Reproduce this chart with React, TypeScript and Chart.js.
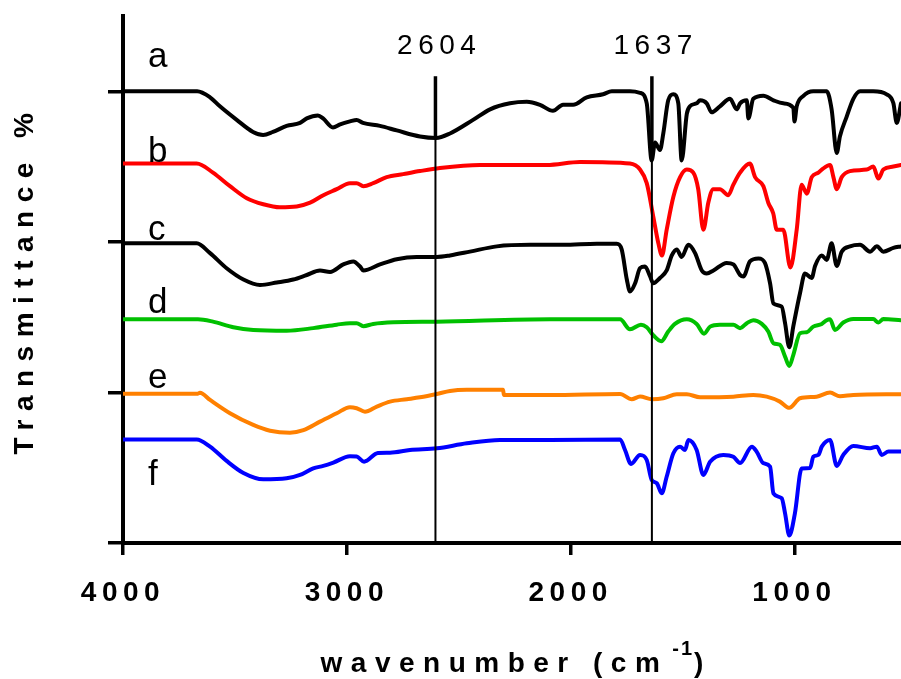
import { useEffect, useRef } from 'react';
import { Chart, registerables } from 'chart.js';

Chart.register(...registerables);

const FONT = '"Liberation Sans", Arial, Helvetica, sans-serif';

// FTIR spectra, [wavenumber (cm-1), offset transmittance] pairs
const traceA: [number, number][] = [
  [4000, 300], [3669, 300], [3611, 296], [3567, 290], [3492, 281], [3419, 273], [3374, 271], [3330, 273],
  [3269, 277], [3209, 279], [3179, 282], [3129, 284], [3106, 282], [3062, 276], [3030, 278], [2986, 280],
  [2956, 281], [2928, 279], [2852, 277], [2777, 274], [2673, 270], [2601, 269], [2539, 272], [2436, 281],
  [2360, 288], [2271, 292], [2196, 293], [2137, 291], [2079, 287], [2034, 291], [1989, 291], [1928, 296],
  [1855, 298], [1816, 300], [1735, 300], [1690, 299], [1660, 292], [1638, 254], [1623, 266], [1601, 261],
  [1586, 272], [1564, 294], [1541, 298], [1519, 292], [1504, 254], [1481, 285], [1467, 290], [1437, 292],
  [1422, 294], [1392, 292], [1370, 286], [1333, 290], [1288, 295], [1258, 288], [1243, 292], [1213, 294],
  [1206, 282], [1184, 295], [1139, 297], [1094, 294], [1050, 292], [1005, 289], [1000, 280], [990, 290],
  [960, 297], [916, 300], [856, 300], [834, 288], [811, 259], [797, 270], [767, 283], [737, 295],
  [707, 300], [648, 300], [588, 298], [558, 292], [543, 279], [524, 292],
];

const traceB: [number, number][] = [
  [4000, 252], [3671, 252], [3598, 246], [3522, 237], [3447, 229], [3373, 225], [3299, 223], [3224, 223.5],
  [3164, 226], [3105, 231], [3045, 235], [2986, 239], [2956, 239], [2926, 237], [2882, 239], [2822, 243],
  [2748, 245], [2673, 247], [2584, 249], [2405, 251], [2107, 251], [1958, 253], [1735, 252], [1690, 248],
  [1660, 239], [1631, 217], [1608, 199], [1592, 191], [1571, 208], [1541, 230], [1511, 243], [1481, 248],
  [1452, 246], [1430, 235], [1407, 208], [1385, 226], [1363, 235], [1333, 235], [1296, 231], [1273, 238],
  [1243, 246], [1199, 252], [1176, 243], [1139, 237], [1117, 226], [1095, 219], [1079, 208], [1050, 208],
  [1018, 183], [990, 208], [968, 238], [945, 232], [923, 243], [893, 246], [878, 248], [841, 251],
  [826, 243], [811, 235], [789, 243], [752, 247], [677, 248], [648, 250], [625, 242], [603, 248],
  [558, 250], [524, 251],
];

const traceC: [number, number][] = [
  [4000, 199], [3671, 199], [3611, 192.5], [3537, 182.5], [3462, 175], [3388, 171.4], [3313, 173], [3239, 175],
  [3179, 178], [3120, 181], [3075, 180], [3016, 185], [2971, 187], [2941, 183.6], [2926, 181], [2852, 185],
  [2777, 188.5], [2688, 190], [2598, 190], [2539, 191], [2450, 193.5], [2330, 197], [2181, 198], [2033, 198],
  [1883, 198.7], [1794, 198.7], [1772, 195], [1749, 175], [1735, 167], [1712, 172.5], [1690, 182.5], [1668, 183.6],
  [1645, 177], [1631, 172.5], [1601, 176], [1571, 181], [1548, 191], [1526, 195], [1504, 190], [1474, 198],
  [1444, 192.5], [1414, 181], [1392, 179], [1362, 181], [1303, 186], [1273, 185], [1243, 178], [1228, 177],
  [1199, 187], [1161, 189], [1132, 186], [1109, 172.5], [1094, 159], [1057, 157], [1042, 146], [1023, 130],
  [1005, 144], [975, 166], [953, 179], [923, 176], [908, 184], [878, 191], [856, 188], [834, 199],
  [811, 184], [789, 193.5], [752, 197], [707, 198], [662, 193.5], [632, 197], [603, 193.5], [558, 196],
  [524, 197],
];

const traceD: [number, number][] = [
  [4000, 148.6], [3665, 148.6], [3598, 147], [3507, 143.3], [3418, 141.5], [3269, 141], [3150, 142.7], [3045, 145],
  [2986, 146], [2956, 146], [2926, 144], [2882, 145.5], [2792, 146.6], [2598, 147], [2092, 148.6], [1779, 148.6],
  [1735, 141.9], [1686, 145], [1660, 143.3], [1631, 138], [1595, 134], [1564, 140.4], [1534, 145.5], [1481, 148.6],
  [1437, 145.5], [1404, 139], [1377, 143.7], [1333, 145], [1273, 145], [1243, 142.7], [1213, 146], [1184, 148],
  [1146, 145.5], [1117, 140.4], [1094, 132.7], [1065, 131.6], [1042, 123.8], [1023, 117.6], [1005, 125], [975, 139.3],
  [945, 140], [916, 143.7], [878, 145.5], [856, 148], [841, 148.6], [819, 141.5], [782, 146.4], [737, 148.8],
  [648, 148.8], [625, 146.4], [603, 148.8], [524, 148],
];

const traceE: [number, number][] = [
  [4000, 99.2], [3665, 99.2], [3656, 99.8], [3611, 95], [3522, 86.2], [3418, 78.4], [3343, 74.6], [3254, 73.3],
  [3194, 75], [3120, 80.6], [3045, 86.2], [2986, 90.2], [2956, 89.5], [2919, 87.2], [2866, 90.6], [2807, 93.9],
  [2732, 95.5], [2673, 96.8], [2598, 99], [2539, 101], [2464, 101.7], [2302, 101.7], [2298, 98.3], [2092, 98.3],
  [1779, 99], [1727, 95.5], [1690, 97.3], [1637, 95.5], [1586, 96.1], [1526, 98.8], [1481, 98.8], [1422, 96.8],
  [1273, 97.2], [1184, 98.3], [1124, 97.2], [1065, 93.9], [1023, 89.8], [975, 96.1], [901, 97.2], [841, 99.9],
  [797, 97.5], [737, 98.3], [524, 98.8],
];

const traceF: [number, number][] = [
  [4000, 68.8], [3671, 68.8], [3611, 64], [3537, 54.5], [3462, 46.5], [3373, 42.3], [3269, 43], [3209, 45.2],
  [3150, 49.6], [3105, 51.2], [3060, 53.4], [2986, 57.6], [2956, 57.4], [2923, 54], [2861, 59.8], [2807, 60],
  [2718, 61.8], [2598, 62.9], [2464, 66.2], [2316, 68.4], [2092, 68.4], [1779, 68.8], [1757, 61.8], [1730, 52.5],
  [1690, 58.5], [1660, 55.1], [1638, 41.9], [1615, 39.7], [1593, 33], [1571, 44], [1541, 59.6], [1511, 64],
  [1489, 61.8], [1474, 68.4], [1437, 61.8], [1407, 45.2], [1377, 54], [1318, 58.5], [1273, 57.3], [1243, 53.2],
  [1190, 64], [1169, 60.7], [1139, 53], [1109, 50.7], [1094, 33], [1057, 29.7], [1042, 19.7], [1023, 5],
  [998, 19.7], [968, 49.5], [930, 49.8], [916, 57.3], [893, 58.5], [878, 64], [841, 68.4], [811, 51.2],
  [782, 58.5], [737, 64.5], [662, 62.9], [632, 64], [610, 58.5], [580, 60.7], [524, 60.7],
];

const seriesData = [traceA, traceB, traceC, traceD, traceE, traceF];
const seriesNames = ['a', 'b', 'c', 'd', 'e', 'f'];
const seriesColors = ['#000000', '#ff0000', '#000000', '#00c000', '#ff8000', '#0000ff'];
// where each trace letter sits (wavenumber, transmittance of its baseline)
const nameWave = 3888;
const nameValues = [316, 253, 201, 153, 103, 38.5];

const xTickValues = [4000, 3000, 2000, 1000];
const yTickValues = [0, 100, 200, 300];
const xRange = [524, 4000];
const yRange = [0, 350];

// marked bands
const refWaves = [2604, 1637];
const refTop = 310;
const refLabelValue = 325;

const DIGIT_SPACING = 5.5;
const TITLE_SPACING = 8.5;

function valueAt(points: [number, number][], w: number): number {
  for (let i = 0; i < points.length - 1; i++) {
    const [w0, v0] = points[i];
    const [w1, v1] = points[i + 1];
    if ((w0 - w) * (w1 - w) <= 0) {
      const t = w0 === w1 ? 0 : (w - w0) / (w1 - w0);
      return v0 + t * (v1 - v0);
    }
  }
  return points[points.length - 1][1];
}

function drawSpaced(ctx: any, text: string, x: number, y: number, spacing: number, align: 'left' | 'center') {
  ctx.letterSpacing = `${spacing}px`;
  ctx.textAlign = 'left';
  const w = ctx.measureText(text).width - spacing;
  const left = align === 'center' ? x - w / 2 : x;
  ctx.fillText(text, left, y);
  return w;
}

const spectraDecor = {
  id: 'spectraDecor',
  beforeDraw(chart: any) {
    const ctx = chart.ctx;
    ctx.letterSpacing = `${DIGIT_SPACING}px`;
    // the vertical axis title is set wider than the tick digits
    const yScale = chart.scales.y;
    if (yScale && !yScale.__spacedTitle) {
      const baseDrawTitle = yScale.drawTitle.bind(yScale);
      yScale.drawTitle = () => {
        ctx.letterSpacing = `${TITLE_SPACING}px`;
        baseDrawTitle();
        ctx.letterSpacing = `${DIGIT_SPACING}px`;
      };
      yScale.__spacedTitle = true;
    }
  },
  afterDatasetsDraw(chart: any) {
    const { ctx, scales } = chart;
    const x = scales.x;
    const y = scales.y;
    ctx.save();
    ctx.strokeStyle = '#000000';
    ctx.fillStyle = '#000000';
    ctx.lineCap = 'butt';
    refWaves.forEach((w) => {
      const px = x.getPixelForValue(w);
      const top = y.getPixelForValue(refTop);
      const mid = y.getPixelForValue(valueAt(traceA, w));
      const bottom = y.getPixelForValue(0);
      ctx.lineWidth = 3.5;
      ctx.beginPath();
      ctx.moveTo(px, top);
      ctx.lineTo(px, mid);
      ctx.stroke();
      ctx.lineWidth = 2;
      ctx.beginPath();
      ctx.moveTo(px, mid);
      ctx.lineTo(px, bottom);
      ctx.stroke();
      ctx.font = `28px ${FONT}`;
      ctx.textBaseline = 'alphabetic';
      drawSpaced(ctx, String(w), px + 1, y.getPixelForValue(refLabelValue), DIGIT_SPACING, 'center');
    });
    ctx.font = `35px ${FONT}`;
    ctx.textBaseline = 'alphabetic';
    seriesNames.forEach((name, i) => {
      drawSpaced(ctx, name, x.getPixelForValue(nameWave), y.getPixelForValue(nameValues[i]), 0, 'left');
    });
    ctx.restore();
  },
  afterDraw(chart: any) {
    const { ctx, chartArea } = chart;
    ctx.save();
    ctx.fillStyle = '#000000';
    ctx.textBaseline = 'alphabetic';
    const spacing = TITLE_SPACING;
    const mainText = 'wavenumber (cm';
    const supText = '-1';
    const closeText = ')';
    ctx.font = `bold 28px ${FONT}`;
    ctx.letterSpacing = `${spacing}px`;
    const wMain = ctx.measureText(mainText).width;
    const wClose = ctx.measureText(closeText).width - spacing;
    ctx.font = `bold 20px ${FONT}`;
    ctx.letterSpacing = '2px';
    const wSup = ctx.measureText(supText).width;
    const gap = 4;
    const total = wMain + gap + wSup + wClose;
    let cx = (chartArea.left + chartArea.right) / 2 - total / 2;
    const baseline = 672;
    ctx.font = `bold 28px ${FONT}`;
    drawSpaced(ctx, mainText, cx, baseline, spacing, 'left');
    cx += wMain + gap;
    ctx.font = `bold 20px ${FONT}`;
    drawSpaced(ctx, supText, cx, baseline - 17, 2, 'left');
    cx += wSup;
    ctx.font = `bold 28px ${FONT}`;
    drawSpaced(ctx, closeText, cx, baseline, spacing, 'left');
    ctx.restore();
    ctx.letterSpacing = '0px';
  },
};

export default function App() {
  const canvasRef = useRef<HTMLCanvasElement>(null);

  useEffect(() => {
    const canvas = canvasRef.current;
    if (!canvas) return;

    const datasets = seriesData.map((points, i) => ({
      label: seriesNames[i],
      data: points.map(([w, v]) => ({ x: w, y: v })),
      borderColor: seriesColors[i],
      backgroundColor: seriesColors[i],
      borderWidth: 4,
      pointRadius: 0,
      fill: false,
      cubicInterpolationMode: 'monotone' as const,
      borderJoinStyle: 'round' as const,
      borderCapStyle: 'round' as const,
    }));

    const chart = new Chart(canvas, {
      type: 'line',
      data: { datasets },
      options: {
        animation: false,
        responsive: false,
        maintainAspectRatio: false,
        devicePixelRatio: 1,
        events: [],
        layout: { padding: { top: 16, right: 0, bottom: 0, left: 0 } },
        plugins: {
          legend: { display: false },
          tooltip: { enabled: false },
        },
        scales: {
          x: {
            type: 'linear',
            reverse: true,
            min: xRange[0],
            max: xRange[1],
            afterBuildTicks: (scale: any) => {
              scale.ticks = xTickValues.map((value) => ({ value }));
            },
            afterFit: (scale: any) => {
              scale.height = 136;
            },
            grid: {
              drawOnChartArea: false,
              drawTicks: true,
              tickLength: 12,
              tickWidth: 3.5,
              tickColor: '#000000',
              color: '#000000',
              lineWidth: 3.5,
            },
            border: { display: true, color: '#000000', width: 4 },
            ticks: {
              autoSkip: false,
              maxRotation: 0,
              padding: 21,
              color: '#000000',
              font: { family: FONT, size: 28, weight: 'bold' },
              callback: (value: any) => String(value),
            },
          },
          y: {
            type: 'linear',
            min: yRange[0],
            max: yRange[1],
            afterBuildTicks: (scale: any) => {
              scale.ticks = yTickValues.map((value) => ({ value }));
            },
            afterFit: (scale: any) => {
              scale.width = 123;
            },
            grid: {
              drawOnChartArea: false,
              drawTicks: true,
              tickLength: 15,
              tickWidth: 3.5,
              tickColor: '#000000',
              color: '#000000',
              lineWidth: 3.5,
            },
            border: { display: true, color: '#000000', width: 4 },
            ticks: { display: false },
            title: {
              display: true,
              text: 'Transmittance %',
              color: '#000000',
              font: { family: FONT, size: 28, weight: 'bold' },
              padding: { top: 8, bottom: 0 },
            },
          },
        },
      },
      plugins: [spectraDecor],
    });

    return () => chart.destroy();
  }, []);

  return (
    <div style={{ position: 'absolute', left: 0, top: 0, width: 901, height: 679, background: '#ffffff' }}>
      <canvas ref={canvasRef} width={901} height={679} style={{ display: 'block', width: 901, height: 679 }} />
    </div>
  );
}
